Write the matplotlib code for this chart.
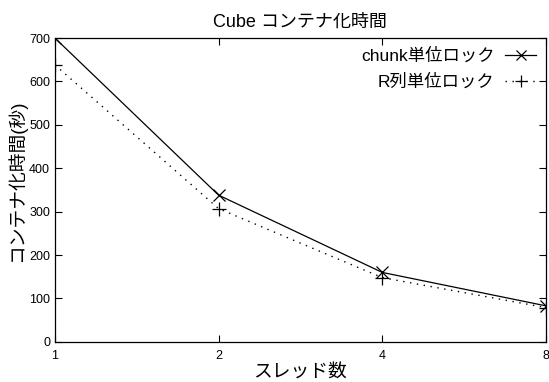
import matplotlib
matplotlib.use("Agg")
import matplotlib.pyplot as plt

plt.rcParams['font.family'] = ['Liberation Sans', 'Noto Sans CJK JP', 'DejaVu Sans']

threads = [1, 2, 4, 8]
chunk_lock = [700, 338, 160, 83]
rcol_lock = [638, 307, 148, 79]

fig = plt.figure(figsize=(5.49, 3.82), dpi=100)
ax = fig.add_axes([0.100, 0.105, 0.8945, 0.7955])

ax.plot(threads, chunk_lock, color='black', lw=0.9, marker='x', ms=9, mew=0.9,
        label='chunk単位ロック')
ax.plot(threads, rcol_lock, color='black', lw=1.0, ls=(0, (1, 4)), marker='+',
        ms=10, mew=0.9, label='R列単位ロック')

ax.set_xscale('log', base=2)
ax.set_xlim(1, 8)
ax.set_ylim(0, 700)
ax.set_xticks(threads)
ax.set_xticklabels([str(t) for t in threads])
ax.minorticks_off()
ax.set_yticks(range(0, 701, 100))
ax.tick_params(direction='in', length=5, width=0.8, top=True, right=True,
               labelsize=9)
ax.tick_params(axis='x', pad=6)
for s in ax.spines.values():
    s.set_linewidth(0.9)

fig.text(0.546, 0.942, 'Cube コンテナ化時間', fontsize=13, ha='center', va='center')
ax.set_xlabel('スレッド数', fontsize=13.5, labelpad=2)
ax.set_ylabel('コンテナ化時間(秒)', fontsize=13.5)
ax.yaxis.set_label_coords(-0.058, 0.53)

ax.legend(loc='upper right', frameon=False, markerfirst=False, fontsize=12.5,
          handlelength=1.8, borderaxespad=0.15, labelspacing=0.55,
          markerscale=0.8, handletextpad=0.6)

fig.savefig('out.png', dpi=100)
